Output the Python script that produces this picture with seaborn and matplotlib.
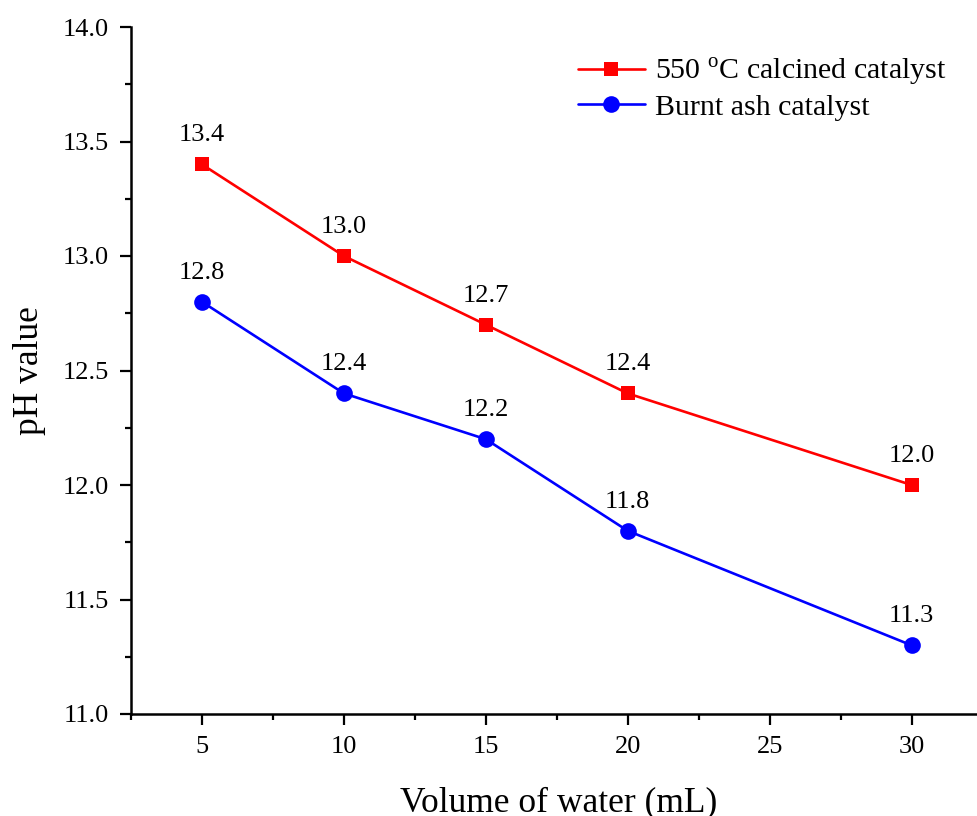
import matplotlib
matplotlib.use("Agg")
import matplotlib.pyplot as plt
import seaborn as sns
import pandas as pd
from matplotlib.ticker import MultipleLocator

volume = [5, 10, 15, 20, 30]
calcined_ph = [13.4, 13.0, 12.7, 12.4, 12.0]
ash_ph = [12.8, 12.4, 12.2, 11.8, 11.3]
series_names = ["550 $^{\\mathrm{o}}$C calcined catalyst", "Burnt ash catalyst"]

sns.set_theme(style="ticks")
plt.rcParams['font.family'] = ['Liberation Serif', 'DejaVu Serif']
plt.rcParams['mathtext.fontset'] = 'custom'
plt.rcParams['mathtext.rm'] = 'Liberation Serif'
for k in ['text.color', 'axes.labelcolor', 'xtick.color', 'ytick.color', 'axes.edgecolor']:
    plt.rcParams[k] = 'black'

fig = plt.figure(figsize=(9.77, 8.16), dpi=100)
ax = fig.add_axes([131/977, 102/816, 1 - 131/977 + 0.01, (714-27)/816])

df1 = pd.DataFrame({"x": volume, "y": calcined_ph})
df2 = pd.DataFrame({"x": volume, "y": ash_ph})
sns.lineplot(data=df1, x="x", y="y", ax=ax, color="#ff0000", marker="s", markersize=10.5,
             markeredgewidth=0, linewidth=1.9, label=series_names[0])
sns.lineplot(data=df2, x="x", y="y", ax=ax, color="#0000ff", marker="o", markersize=12,
             markeredgewidth=0, linewidth=1.9, label=series_names[1])

for xs, ys in [(volume, calcined_ph), (volume, ash_ph)]:
    for x, y in zip(xs, ys):
        ax.annotate(f"{y:.1f}", (x, y), xytext=(0, 13), textcoords="offset points",
                    ha="center", va="bottom", fontsize=19)

ax.set_xlim(2.5, 32.65)
ax.set_ylim(11.0, 14.0)
ax.xaxis.set_minor_locator(MultipleLocator(2.5))
ax.yaxis.set_minor_locator(MultipleLocator(0.25))
ax.set_xticks([5, 10, 15, 20, 25, 30])
yt = [11.0, 11.5, 12.0, 12.5, 13.0, 13.5, 14.0]
ax.set_yticks(yt)
ax.set_yticklabels([f"{v:.1f}" for v in yt])
ax.tick_params(axis="both", which="major", direction="out", length=8, width=1.6, labelsize=19, pad=8)
ax.tick_params(axis="both", which="minor", direction="out", length=4.5, width=1.6)
for s in ["left", "bottom"]:
    ax.spines[s].set_linewidth(1.8)
for s in ["top", "right"]:
    ax.spines[s].set_visible(False)

ax.set_xlabel("Volume of water (mL)", fontsize=25.5, labelpad=20)
ax.set_ylabel("pH value", fontsize=25.5, labelpad=12)

leg = ax.legend(loc="upper left", bbox_to_anchor=(0.522, 0.958), frameon=False, fontsize=21.5,
                handlelength=2.25, handletextpad=0.35, labelspacing=0.2, borderaxespad=0,
                borderpad=0)

fig.savefig("out.png", dpi=100)
